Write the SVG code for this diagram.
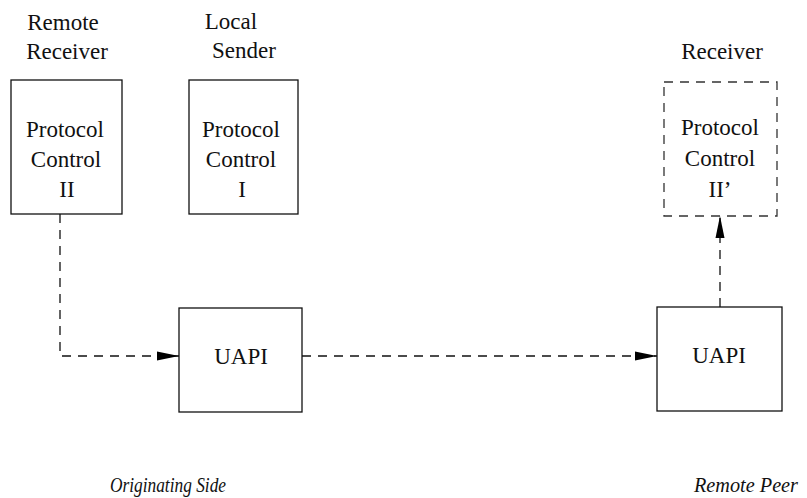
<svg xmlns="http://www.w3.org/2000/svg" width="807" height="498" viewBox="0 0 807 498">
<style>
.box{fill:none;stroke:#111;stroke-width:1.3}
.dbox{fill:none;stroke:#333;stroke-width:1.3;stroke-dasharray:9 7}
.conn{fill:none;stroke:#111;stroke-width:1.3;stroke-dasharray:9 7}
.t{font-size:23px;fill:#111;text-anchor:middle}
.it{font-style:italic;font-size:21px}
</style>
<defs>
<marker id="ah" markerWidth="22" markerHeight="10" refX="22" refY="5" orient="auto" markerUnits="userSpaceOnUse">
<path d="M0,0.5 L22,5 L0,9.5 Z" fill="#000"/>
</marker>
</defs>
<rect width="807" height="498" fill="#fff"/>
<g font-family="'Liberation Serif', 'Times New Roman', 'DejaVu Serif', serif">
<g id="label-remote-receiver">
<text class="t" x="63" y="30">Remote</text>
<text class="t" x="67" y="59">Receiver</text>
</g>
<g id="label-local-sender">
<text class="t" x="231" y="29">Local</text>
<text class="t" x="244" y="58">Sender</text>
</g>
<g id="label-receiver">
<text class="t" x="722" y="59">Receiver</text>
</g>
<g id="pc2">
<rect class="box" x="11" y="80" width="111" height="134"/>
<text class="t" x="65" y="137">Protocol</text>
<text class="t" x="66" y="167">Control</text>
<text class="t" x="67" y="197">II</text>
</g>
<g id="pc1">
<rect class="box" x="189" y="80" width="109" height="134"/>
<text class="t" x="241" y="137">Protocol</text>
<text class="t" x="241" y="167">Control</text>
<text class="t" x="242" y="197">I</text>
</g>
<g id="pc2prime">
<rect class="dbox" x="664" y="82" width="113" height="134"/>
<text class="t" x="720" y="135">Protocol</text>
<text class="t" x="720" y="166">Control</text>
<text class="t" x="720" y="197">II’</text>
</g>
<g id="uapi-left">
<rect class="box" x="179" y="308" width="123" height="104"/>
<text class="t" x="241" y="364">UAPI</text>
</g>
<g id="uapi-right">
<rect class="box" x="657" y="307" width="125" height="104"/>
<text class="t" x="719" y="363">UAPI</text>
</g>
<g id="connectors">
<path class="conn" d="M60,214 L60,356 L179,356" marker-end="url(#ah)"/>
<path class="conn" d="M302,356 L657,356" marker-end="url(#ah)"/>
<path class="conn" d="M720,307 L720,216" marker-end="url(#ah)"/>
</g>
<g id="footer">
<text class="t it" x="168" y="492" textLength="116" lengthAdjust="spacingAndGlyphs">Originating Side</text>
<text class="t it" x="746" y="492" textLength="104" lengthAdjust="spacingAndGlyphs">Remote Peer</text>
</g>
</g>
</svg>
